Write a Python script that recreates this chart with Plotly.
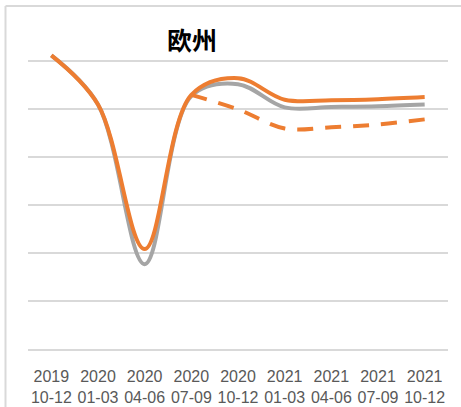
import plotly.graph_objects as go

# Quarterly categories (year / months)
quarters = ["2019<br>10-12", "2020<br>01-03", "2020<br>04-06", "2020<br>07-09", "2020<br>10-12",
            "2021<br>01-03", "2021<br>04-06", "2021<br>07-09", "2021<br>10-12"]

# Series values
gray_series = [122.5, 102.0, 35.4, 105.5, 110.5, 100.8, 101.0, 101.3, 102.0]
orange_series = [122.5, 102.0, 41.7, 106.0, 113.0, 104.0, 103.8, 104.2, 105.1]
orange_dashed = [None, None, None, 106.0, 100.0, 92.0, 92.5, 93.7, 95.8]

ORANGE = "#ED7D31"
GRAY = "#A5A5A5"
GRID = "#D9D9D9"

fig = go.Figure()
fig.add_trace(go.Scatter(x=quarters, y=gray_series, mode="lines",
                         line=dict(color=GRAY, width=4, shape="spline", smoothing=1.0),
                         hoverinfo="skip"))
fig.add_trace(go.Scatter(x=quarters, y=orange_dashed, mode="lines",
                         line=dict(color=ORANGE, width=4, shape="spline", smoothing=1.0,
                                   dash="16px,12px"),
                         hoverinfo="skip"))
fig.add_trace(go.Scatter(x=quarters, y=orange_series, mode="lines",
                         line=dict(color=ORANGE, width=4, shape="spline", smoothing=1.0),
                         hoverinfo="skip"))

W, H = 461, 407
ml, mr, mt, mb = 28, 13, 46.6, 58
y_top = 126

# chart frame (top and left edges)
px_x = lambda p: (p - ml) / (W - ml - mr)
px_y = lambda p: (H - mb - p) / (H - mb - mt)
fig.add_shape(type="line", xref="paper", yref="paper",
              x0=px_x(5.5), x1=px_x(470), y0=px_y(5.5), y1=px_y(5.5),
              line=dict(color=GRID, width=2))
fig.add_shape(type="line", xref="paper", yref="paper",
              x0=px_x(5.5), x1=px_x(5.5), y0=px_y(5.5), y1=px_y(420),
              line=dict(color=GRID, width=2))

fig.add_annotation(text="<b>欧州</b>", xref="paper", yref="paper",
                   x=px_x(192), y=px_y(39), xanchor="center", yanchor="middle",
                   showarrow=False,
                   font=dict(family="Noto Sans CJK JP", size=25, color="#000000"))

fig.update_layout(
    width=W, height=H,
    margin=dict(l=ml, r=mr, t=mt, b=mb, autoexpand=False),
    paper_bgcolor="white", plot_bgcolor="white",
    showlegend=False,
    xaxis=dict(range=[-0.5, 8.5], showgrid=False, showline=True, linecolor=GRID, linewidth=1.5,
               ticks="", ticklabelstandoff=12, automargin=False,
               tickfont=dict(family="Liberation Sans", size=16, color="#595959"),
               tickangle=0, fixedrange=True),
    yaxis=dict(range=[0, y_top], dtick=20, showgrid=True, gridcolor=GRID, gridwidth=1.5,
               showticklabels=False, zeroline=False, showline=False, fixedrange=True,
               automargin=False),
)

fig.write_html("out.html")
